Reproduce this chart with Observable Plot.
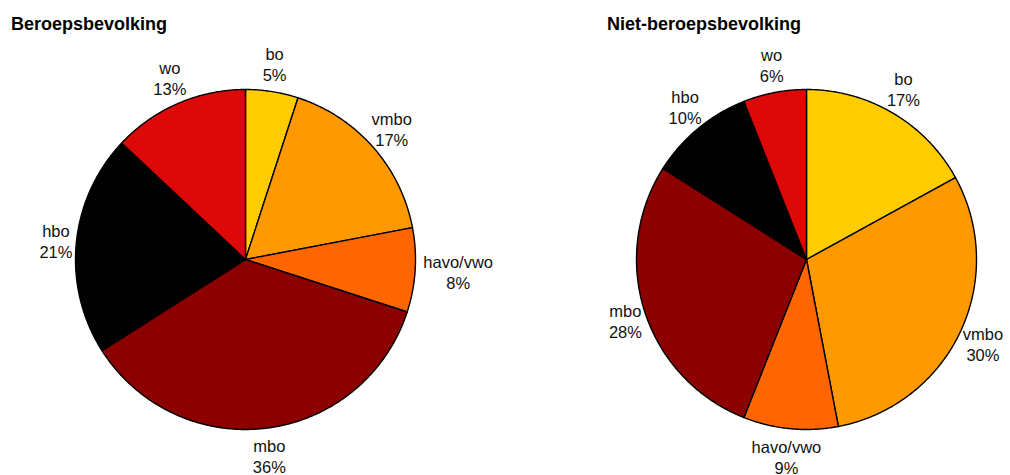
<!DOCTYPE html>
<html>
<head>
<meta charset="utf-8">
<script src="https://cdn.jsdelivr.net/npm/d3@7"></script>
<script src="https://cdn.jsdelivr.net/npm/@observablehq/plot@0.6"></script>
<style>
  html, body { margin: 0; padding: 0; background: #fff; }
  #wrap { position: relative; width: 1010px; height: 475px; overflow: hidden; font-family: "Liberation Sans", Arial, sans-serif; }
  .title { position: absolute; top: 15px; font-weight: bold; font-size: 18px; line-height: 18px; color: #000; white-space: nowrap; }
  #wrap svg { position: absolute; left: 0; top: 0; }
</style>
</head>
<body>
<div id="wrap"></div>
<script>
// ---- data ----
const categories = ["bo", "vmbo", "havo/vwo", "mbo", "hbo", "wo"];
const beroepsbevolking = [5, 17, 8, 36, 21, 13];
const nietBeroepsbevolking = [17, 30, 9, 28, 10, 6];
const sliceColors = ["#FFCC00", "#FF9900", "#FF6600", "#8C0000", "#000000", "#DD0808"];
const titles = ["Beroepsbevolking", "Niet-beroepsbevolking"];

// ---- layout ----
const W = 1010, H = 475;
const R = 170;                 // pixels per unit radius
const centersPx = [245, 806];  // pie centre x in pixels
const centerYPx = 259;
const fontSize = 16.5;
const lineH = 21;

const pies = [beroepsbevolking, nietBeroepsbevolking];
const slicePts = [];
const labels = [];
pies.forEach((vals, p) => {
  const cx = (centersPx[p] - centersPx[0]) / R;
  const total = d3.sum(vals);
  let acc = 0;
  vals.forEach((v, i) => {
    const a0 = acc / total * 2 * Math.PI;
    acc += v;
    const a1 = acc / total * 2 * Math.PI;
    const key = p + "-" + i;
    slicePts.push({key, cat: categories[i], x: cx, y: 0});
    const n = Math.max(2, Math.ceil((a1 - a0) / (Math.PI / 360)));
    for (let k = 0; k <= n; k++) {
      const a = a0 + (a1 - a0) * k / n;
      slicePts.push({key, cat: categories[i], x: cx + Math.sin(a), y: Math.cos(a)});
    }
    slicePts.push({key, cat: categories[i], x: cx, y: 0});
    // label placement: outside end, box pushed outward
    const am = (a0 + a1) / 2;
    const pct = Math.round(v / total * 100) + "%";
    const txt = categories[i] + "\n" + pct;
    const wpx = Math.max(categories[i].length, pct.length) * 0.55 * fontSize;
    const hpx = 2 * lineH;
    const r0 = 1.04;
    const lx = cx + r0 * Math.sin(am) + (wpx / 2 / R) * Math.sin(am);
    const ly = r0 * Math.cos(am) + (hpx / 2 / R) * Math.cos(am);
    labels.push({x: lx, y: ly, text: txt});
  });
});

const xDomain = [(0 - centersPx[0]) / R, (W - centersPx[0]) / R];
const yDomain = [-(H - centerYPx) / R, centerYPx / R];

const chart = Plot.plot({
  width: W,
  height: H,
  margin: 0,
  x: {domain: xDomain, axis: null},
  y: {domain: yDomain, axis: null},
  color: {type: "ordinal", domain: categories, range: sliceColors},
  style: {fontFamily: "'Liberation Sans', Arial, sans-serif", background: "transparent"},
  marks: [
    Plot.line(slicePts, {x: "x", y: "y", z: "key", fill: "cat", stroke: "#000", strokeWidth: 1.4, strokeLinejoin: "round"}),
    Plot.text(labels, {x: "x", y: "y", text: "text", fontSize: fontSize, lineHeight: lineH / fontSize, fill: "#111", textAnchor: "middle", lineAnchor: "middle"})
  ]
});

const wrap = document.getElementById("wrap");
wrap.appendChild(chart);
const titleLeft = [11, 607];
titles.forEach((t, i) => {
  const d = document.createElement("div");
  d.className = "title";
  d.style.left = titleLeft[i] + "px";
  d.textContent = t;
  wrap.appendChild(d);
});
</script>
</body>
</html>
